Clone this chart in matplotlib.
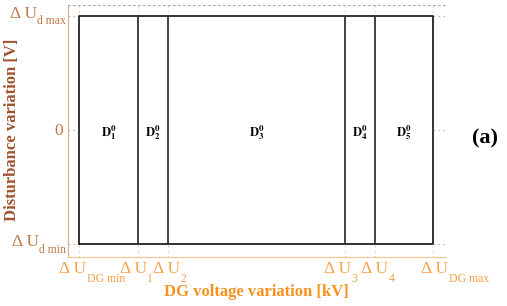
import matplotlib
matplotlib.use("Agg")
import matplotlib.pyplot as plt

plt.rcParams['font.family'] = ['Liberation Serif', 'DejaVu Serif']
plt.rcParams['mathtext.fontset'] = 'stix'

# Data (normalised positions)
x_ticks = [0.0, 0.167, 0.251, 0.751, 0.836, 1.0]
x_tick_main = ['\u0394 U'] * 6
x_tick_sub = ['DG min', '1', '2', '3', '4', 'DG max']
y_ticks = [-1.0, 0.0, 1.0]
y_tick_main = ['\u0394 U', '0', '\u0394 U']
y_tick_sub = ['d min', '', 'd max']
region_labels = [r'$\mathbf{D}_{\mathbf{%d}}^{\mathbf{0}}$' % i for i in range(1, 6)]

# layout (style) constants
x_label_shift_px = [-6, -5, -1, -7, 0, 2]

W, H = 507, 306
fig = plt.figure(figsize=(5.07, 3.06), dpi=100)
ax = fig.add_axes([68/W, 49/H, (446-68)/W, (257-5)/H])
ax.set_xlim(-0.031, 1.037)
ax.set_ylim(-1.114, 1.096)

ytick_col = '#c07a4a'
xtick_col = '#f9a04a'

# grid
for xv in x_ticks:
    ax.axvline(xv, color='#f5c896', linestyle=(0, (1.5, 3)), lw=0.8, zorder=1)
for yv in y_ticks:
    ax.axhline(yv, color='#c9b4a6', linestyle=(0, (1.5, 3)), lw=0.8, zorder=1)

# rectangle (white filled) and dividing lines
x0, x1 = x_ticks[0], x_ticks[-1]
y0, y1 = y_ticks[0], y_ticks[-1]
ax.fill([x0, x1, x1, x0], [y0, y0, y1, y1], color='white', zorder=2)
ax.plot([x0, x1, x1, x0, x0], [y0, y0, y1, y1, y0], color='#222222', lw=1.3, zorder=3)
for xv in x_ticks[1:-1]:
    ax.plot([xv, xv], [y0, y1], color='#333333', lw=1.3, zorder=3)

# region labels
for i, lab in enumerate(region_labels):
    xm = (x_ticks[i] + x_ticks[i+1]) / 2
    ax.text(xm, -0.02, lab, ha='center', va='center', fontsize=9, color='black', zorder=4)

ax.set_xticks(x_ticks)
ax.set_xticklabels([])
ax.set_yticks(y_ticks)
ax.set_yticklabels([])
ax.tick_params(axis='both', length=0)

ax.spines['right'].set_visible(False)
ax.spines['top'].set_color('#aaaaaa')
ax.spines['top'].set_linestyle((0, (1.5, 3)))
ax.spines['top'].set_linewidth(0.8)
ax.spines['left'].set_color('#d9ab88')
ax.spines['bottom'].set_color('#f8c28c')

fig.canvas.draw()
renderer = fig.canvas.get_renderer()

# x tick labels (main + subscript), in figure pixels
for xv, m, s, dx in zip(x_ticks, x_tick_main, x_tick_sub, x_label_shift_px):
    px = ax.transData.transform((xv, 0))[0]
    t = ax.annotate(m, xy=(px + dx, H - 273), xycoords='figure pixels',
                    ha='center', va='baseline', fontsize=12.5, color=xtick_col,
                    annotation_clip=False)
    bb = t.get_window_extent(renderer)
    ax.annotate(s, xy=(bb.x1 + 0.5, H - 282), xycoords='figure pixels',
                ha='left', va='baseline', fontsize=8.5, color=xtick_col,
                annotation_clip=False)

# y tick labels
spine_px = ax.transAxes.transform((0, 0))[0]
for yv, m, s in zip(y_ticks, y_tick_main, y_tick_sub):
    py = ax.transData.transform((0, yv))[1]
    if s:
        ts = ax.annotate(s, xy=(spine_px - 2, py - 8.5), xycoords='figure pixels',
                         ha='right', va='baseline', fontsize=8.5, color=ytick_col,
                         annotation_clip=False)
        bb = ts.get_window_extent(renderer)
        ax.annotate(m, xy=(bb.x0 - 0.5, py - 2), xycoords='figure pixels',
                    ha='right', va='baseline', fontsize=12.5, color=ytick_col,
                    annotation_clip=False)
    else:
        ax.annotate(m, xy=(spine_px - 5, py - 1), xycoords='figure pixels',
                    ha='right', va='center', fontsize=12.5, color=ytick_col,
                    annotation_clip=False)

ax.set_xlabel('DG voltage variation [kV]', fontsize=12, fontweight='bold', color='#f7921e')
ax.xaxis.set_label_coords((256-68)/378, (257-284)/252)
ax.set_ylabel('Disturbance variation [V]', fontsize=12, fontweight='bold', color='#a0522d')
ax.yaxis.set_label_coords((20-68)/378, (257-130)/252)

fig.text(485/W, 1 - 138/H, '(a)', fontsize=16, fontweight='bold', ha='center', va='center')

fig.savefig('out.png', dpi=100)
